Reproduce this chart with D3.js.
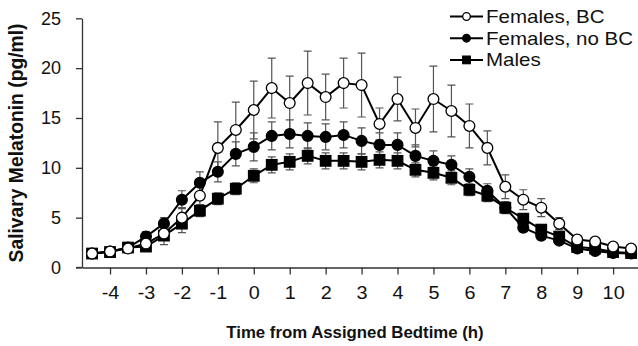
<!DOCTYPE html>
<meta charset="UTF-8">
<head>
<script src="https://d3js.org/d3.v7.min.js"></script>
<style>
body { margin: 0; background: #fff; }
text { font-family: "Liberation Sans", Arial, sans-serif; fill: #111; }
.axis path, .axis line { stroke: #333; stroke-width: 1.3px; }
.err { stroke: #555; stroke-width: 1.2px; fill: none; }
.series { fill: none; stroke: #000; stroke-width: 2px; }
</style>
</head>
<body>
<div id="chart"></div>
<script>

// hours from assigned bedtime (every half hour)
var times = [-4.5, -4, -3.5, -3, -2.5, -2, -1.5, -1, -0.5, 0, 0.5, 1, 1.5, 2, 2.5, 3,
             3.5, 4, 4.5, 5, 5.5, 6, 6.5, 7, 7.5, 8, 8.5, 9, 9.5, 10, 10.5];

var femBC     = [1.4, 1.6, 1.9, 2.4, 3.4, 5.0, 7.2, 12.0, 13.8, 15.8, 18.0, 16.5, 18.5, 17.1, 18.5, 18.3,
                 14.4, 16.9, 14.0, 16.9, 15.7, 14.2, 12.0, 8.1, 6.8, 6.0, 4.4, 2.8, 2.6, 2.1, 1.9];
var femBCerr  = [0.2, 0.2, 0.3, 0.4, 0.6, 1.0, 1.0, 2.6, 2.8, 2.9, 3.0, 2.7, 3.2, 2.3, 2.5, 3.2,
                 1.6, 2.2, 1.9, 3.3, 2.6, 2.2, 1.7, 1.2, 1.0, 0.9, 0.6, 0.3, 0.3, 0.2, 0.2];

var femNoBC    = [1.4, 1.6, 2.0, 3.1, 4.4, 6.8, 8.5, 9.6, 11.4, 12.1, 13.2, 13.4, 13.2, 13.1, 13.3, 12.7,
                  12.3, 12.3, 11.2, 10.7, 10.3, 9.1, 7.7, 6.0, 4.0, 3.2, 2.7, 1.9, 1.65, 1.45, 1.4];
var femNoBCerr = [0.2, 0.2, 0.3, 0.5, 0.6, 0.9, 1.1, 1.0, 1.2, 1.4, 1.4, 1.4, 1.3, 1.3, 1.3, 1.3,
                  1.2, 1.2, 1.1, 1.0, 0.9, 0.8, 0.7, 0.6, 0.4, 0.3, 0.3, 0.2, 0.2, 0.2, 0.2];

var males    = [1.4, 1.55, 2.0, 2.1, 3.2, 4.4, 5.7, 6.9, 7.9, 9.2, 10.3, 10.6, 11.2, 10.7, 10.7, 10.6,
                10.8, 10.7, 9.8, 9.5, 9.0, 7.8, 7.2, 6.0, 4.9, 3.8, 3.1, 2.05, 1.9, 1.55, 1.45];
var malesErr = [0.2, 0.2, 0.3, 0.4, 0.9, 0.9, 0.6, 0.6, 0.6, 0.7, 0.8, 0.8, 0.8, 0.8, 0.8, 0.8,
                0.8, 0.8, 0.7, 0.7, 0.7, 0.6, 0.6, 0.5, 0.4, 0.4, 0.3, 0.2, 0.2, 0.2, 0.2];

var xTicks = [-4, -3, -2, -1, 0, 1, 2, 3, 4, 5, 6, 7, 8, 9, 10];
var yTicks = [0, 5, 10, 15, 20, 25];

var seriesNames = ["Females, BC", "Females, no BC", "Males"];

var width = 638, height = 346;

var svg = d3.select("#chart").append("svg")
    .attr("width", width)
    .attr("height", height);

var x = d3.scaleLinear().domain([-4.78, 10.72]).range([82, 639]);
var y = d3.scaleLinear().domain([0, 25]).range([267.5, 18.3]);

// axes
var xAxis = svg.append("g")
    .attr("class", "axis")
    .attr("transform", "translate(0," + y(0) + ")")
    .call(d3.axisBottom(x).tickValues(xTicks).tickSize(7).tickSizeOuter(0)
      .tickFormat(function(d) { return String(d); }));
xAxis.selectAll(".tick text")
    .attr("dy", null)
    .attr("y", 32)
    .attr("transform", "scale(1.1,1)")
    .style("font-size", "18px");

var yAxis = svg.append("g")
    .attr("class", "axis")
    .attr("transform", "translate(" + x(-4.78) + ",0)")
    .call(d3.axisLeft(y).tickValues(yTicks).tickSize(6).tickSizeOuter(0));
yAxis.selectAll("text")
    .attr("x", -21)
    .style("font-size", "18px");

// x axis line runs a little left of the y axis, as in the original
svg.append("line")
    .attr("x1", x(-4.78) - 6).attr("x2", x(-4.78))
    .attr("y1", y(0)).attr("y2", y(0))
    .attr("stroke", "#333").attr("stroke-width", 1.3);

// axis titles
svg.append("text")
    .attr("x", 355).attr("y", 338)
    .attr("text-anchor", "middle")
    .style("font-size", "16.8px")
    .style("font-weight", "bold")
    .text("Time from Assigned Bedtime (h)");

svg.append("text")
    .attr("transform", "translate(23,143) rotate(-90)")
    .attr("text-anchor", "middle")
    .style("font-size", "19.3px")
    .style("font-weight", "bold")
    .text("Salivary Melatonin (pg/ml)");

var line = d3.line()
    .x(function(d) { return x(d.t); })
    .y(function(d) { return y(d.v); });

function pack(vals, errs) {
  return times.map(function(t, i) { return {t: t, v: vals[i], e: errs[i]}; });
}

var series = [
  {name: seriesNames[2], data: pack(males, malesErr), shape: "square", fill: "#000"},
  {name: seriesNames[1], data: pack(femNoBC, femNoBCerr), shape: "circle", fill: "#000"},
  {name: seriesNames[0], data: pack(femBC, femBCerr), shape: "circle", fill: "#fff"}
];

// error bars first
series.forEach(function(s) {
  var g = svg.append("g");
  s.data.forEach(function(d) {
    var cx = x(d.t), top = y(d.v + d.e), bot = y(d.v - d.e);
    g.append("path")
      .attr("class", "err")
      .attr("d", "M" + cx + "," + top + "V" + bot +
                 "M" + (cx - 4) + "," + top + "H" + (cx + 4) +
                 "M" + (cx - 4) + "," + bot + "H" + (cx + 4));
  });
});

function drawMarker(g, shape, fill, cx, cy, r) {
  if (shape === "square") {
    g.append("rect")
      .attr("x", cx - r).attr("y", cy - r)
      .attr("width", 2 * r).attr("height", 2 * r)
      .attr("fill", fill).attr("stroke", "#000").attr("stroke-width", 1.2);
  } else {
    g.append("circle")
      .attr("cx", cx).attr("cy", cy).attr("r", r)
      .attr("fill", fill).attr("stroke", "#000").attr("stroke-width", 1.3);
  }
}

series.forEach(function(s) {
  svg.append("path")
    .datum(s.data)
    .attr("class", "series")
    .attr("d", line);
  var g = svg.append("g");
  s.data.forEach(function(d) {
    drawMarker(g, s.shape, s.fill, x(d.t), y(d.v), s.shape === "square" ? 5.3 : 5.4);
  });
});

// legend
var legend = [
  {name: seriesNames[0], shape: "circle", fill: "#fff"},
  {name: seriesNames[1], shape: "circle", fill: "#000"},
  {name: seriesNames[2], shape: "square", fill: "#000"}
];
legend.forEach(function(l, i) {
  var ly = 16.5 + i * 21.7;
  var g = svg.append("g");
  g.append("line")
    .attr("x1", 450).attr("x2", 483)
    .attr("y1", ly).attr("y2", ly)
    .attr("stroke", "#000").attr("stroke-width", 2);
  drawMarker(g, l.shape, l.fill, 466.5, ly, 3.8);
  g.append("text")
    .attr("transform", "translate(486," + (ly + 6.5) + ") scale(1.14,1)")
    .style("font-size", "18px")
    .text(l.name);
});

</script>
</body>
